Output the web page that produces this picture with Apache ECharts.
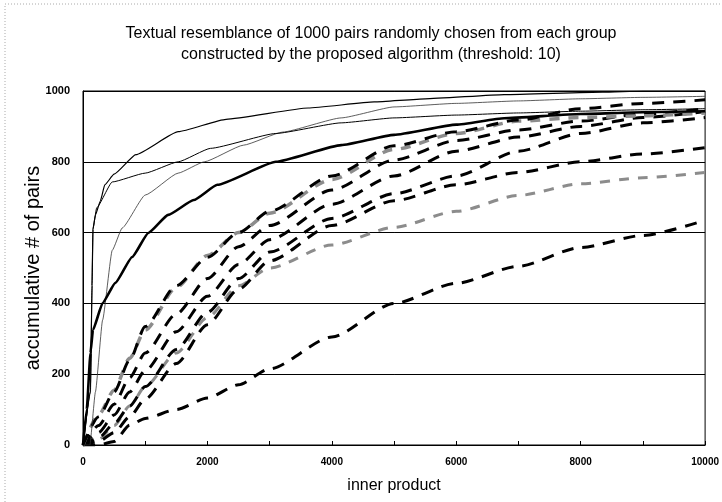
<!DOCTYPE html>
<html>
<head>
<meta charset="utf-8">
<script src="https://cdn.jsdelivr.net/npm/echarts@6/dist/echarts.min.js"></script>
<style>html,body{margin:0;padding:0;background:#fff;}#c{width:722px;height:502px;}</style>
</head>
<body>
<div id="c"></div>
<script>
// ---- data ----
const titleLines = ['Textual resemblance of 1000 pairs randomly chosen from each group',
                    'constructed by the proposed algorithm (threshold: 10)'];
const xName = 'inner product';
const yName = 'accumulative # of pairs';
const xTickLabels = [0, 2000, 4000, 6000, 8000, 10000];
const yTickLabels = [0, 200, 400, 600, 800, 1000];

// solid curves
const solidAX = [0,120,145,160,200,280,350,500,850,1530,2300,3620,4680,5500,6770,8350,9000,10000];
const solidAY = [0,150,450,610,650,690,735,765,820,885,920,952,969,978,990,997,1000,1000];
const solidBX = [0,120,145,160,220,470,1000,1530,2050,3100,4150,5000,6000,7000,8000,9000,10000];
const solidBY = [0,150,450,610,670,743,768,800,838,880,910,924,932,938,943,947,950];
const solidCX = [0,110,200,315,470,630,1000,1530,1950,2580,3210,4150,5000,6000,7000,8000,9000,10000];
const solidCY = [0,0,150,353,550,613,706,768,800,847,884,924,955,965,972,978,982,985];
const thickDX = [0,60,120,160,315,520,790,1050,1370,1780,2160,3100,4150,5000,6000,6770,8000,9000,10000];
const thickDY = [0,100,260,325,401,458,531,599,650,692,735,800,847,876,905,923,935,940,943];

// dashed curves share one x grid
const dashX = [0,250,500,750,1000,1500,2000,2500,3000,4000,5000,6000,7000,8000,9000,10000];
const dashF1 = [0,80,150,240,335,450,530,600,660,760,845,885,918,950,965,975];
const grayG2 = [0,85,155,245,325,445,535,600,655,750,835,880,915,925,930,938];
const dashF2 = [0,55,115,190,260,370,470,560,620,720,805,860,890,915,935,950];
const dashF3 = [0,35,85,150,210,320,420,510,580,680,760,830,870,900,925,942];
const dashF4 = [0,20,60,110,165,270,375,470,545,640,710,760,830,880,910,925];
const dashF5 = [0,10,35,80,130,230,340,440,520,620,690,735,770,800,822,840];
const grayG1 = [0,15,55,110,165,260,360,450,500,565,615,660,705,738,755,770];
const dashE  = [0,0,10,56,75,100,133,170,215,305,400,457,505,558,592,635];

// ---- chart ----
const FONT = '"Liberation Sans", Arial, sans-serif';
const pairs = (xs, ys) => xs.map((x, i) => [x, ys[i]]);

function solid(name, xs, ys, width, color) {
  return { name, type: 'line', data: pairs(xs, ys), showSymbol: false, symbol: 'none',
    smooth: 0.15, smoothMonotone: 'x', z: 3,
    lineStyle: { color, width, type: 'solid', join: 'round' } };
}
function dashed(name, ys, color, width, pattern) {
  return { name, type: 'line', data: pairs(dashX, ys), showSymbol: false, symbol: 'none',
    smooth: 0.25, smoothMonotone: 'x', z: 2,
    lineStyle: { color, width, type: pattern, cap: 'butt' } };
}

const chart = echarts.init(document.getElementById('c'), null, { renderer: 'canvas' });
chart.setOption({
  animation: false,
  backgroundColor: '#fff',
  title: {
    text: titleLines.join('\n'),
    left: 366, top: 18, textAlign: 'center',
    textStyle: { fontFamily: FONT, fontSize: 16, fontWeight: 'normal', color: '#000', lineHeight: 21 }
  },
  graphic: [{
    type: 'rect', shape: { x: 5, y: 4, width: 740, height: 520 }, silent: true,
    style: { fill: 'none', stroke: '#aaa', lineWidth: 1, lineDash: [1, 2] }
  }],
  grid: { left: 83, right: 4, top: 91, bottom: 57, show: true, borderColor: '#000', borderWidth: 1, backgroundColor: 'transparent' },
  xAxis: {
    type: 'value', min: 0, max: 10000, interval: 1000,
    name: xName, nameLocation: 'middle', nameGap: 33,
    nameTextStyle: { fontFamily: FONT, fontSize: 16, color: '#000' },
    axisLine: { show: true, lineStyle: { color: '#000', width: 1 } },
    axisTick: { show: true, inside: true, length: 4, lineStyle: { color: '#000' } },
    splitLine: { show: false },
    axisLabel: {
      fontFamily: FONT, fontSize: 10, fontWeight: 'bold', color: '#000', margin: 12,
      formatter: v => (xTickLabels.indexOf(v) >= 0 ? String(v) : '')
    }
  },
  yAxis: {
    type: 'value', min: 0, max: 1000, interval: 200,
    name: yName, nameLocation: 'middle', nameGap: 40, nameMoveOverlap: false,
    nameTextStyle: { fontFamily: FONT, fontSize: 20, color: '#000' },
    axisLine: { show: true, lineStyle: { color: '#000', width: 1 } },
    axisTick: { show: false },
    splitLine: { show: true, lineStyle: { color: '#000', width: 1 } },
    axisLabel: {
      fontFamily: FONT, fontSize: 11, fontWeight: 'bold', color: '#000', margin: 13,
      formatter: v => (yTickLabels.indexOf(v) >= 0 ? String(v) : '')
    }
  },
  series: [
    dashed('E', dashE, '#000', 3, [12, 9]),
    dashed('G1', grayG1, '#8c8c8c', 3, [10, 9]),
    dashed('F5', dashF5, '#000', 3, [12, 9]),
    dashed('F4', dashF4, '#000', 3, [12, 9]),
    dashed('F3', dashF3, '#000', 3, [12, 9]),
    dashed('F2', dashF2, '#000', 3, [12, 9]),
    dashed('G2', grayG2, '#8c8c8c', 3.5, [10, 9]),
    dashed('F1', dashF1, '#000', 3, [12, 9]),
    solid('C', solidCX, solidCY, 0.8, '#333'),
    solid('B', solidBX, solidBY, 1, '#000'),
    solid('A', solidAX, solidAY, 1.2, '#000'),
    solid('D', thickDX, thickDY, 2.6, '#000')
  ]
});
</script>
</body>
</html>
